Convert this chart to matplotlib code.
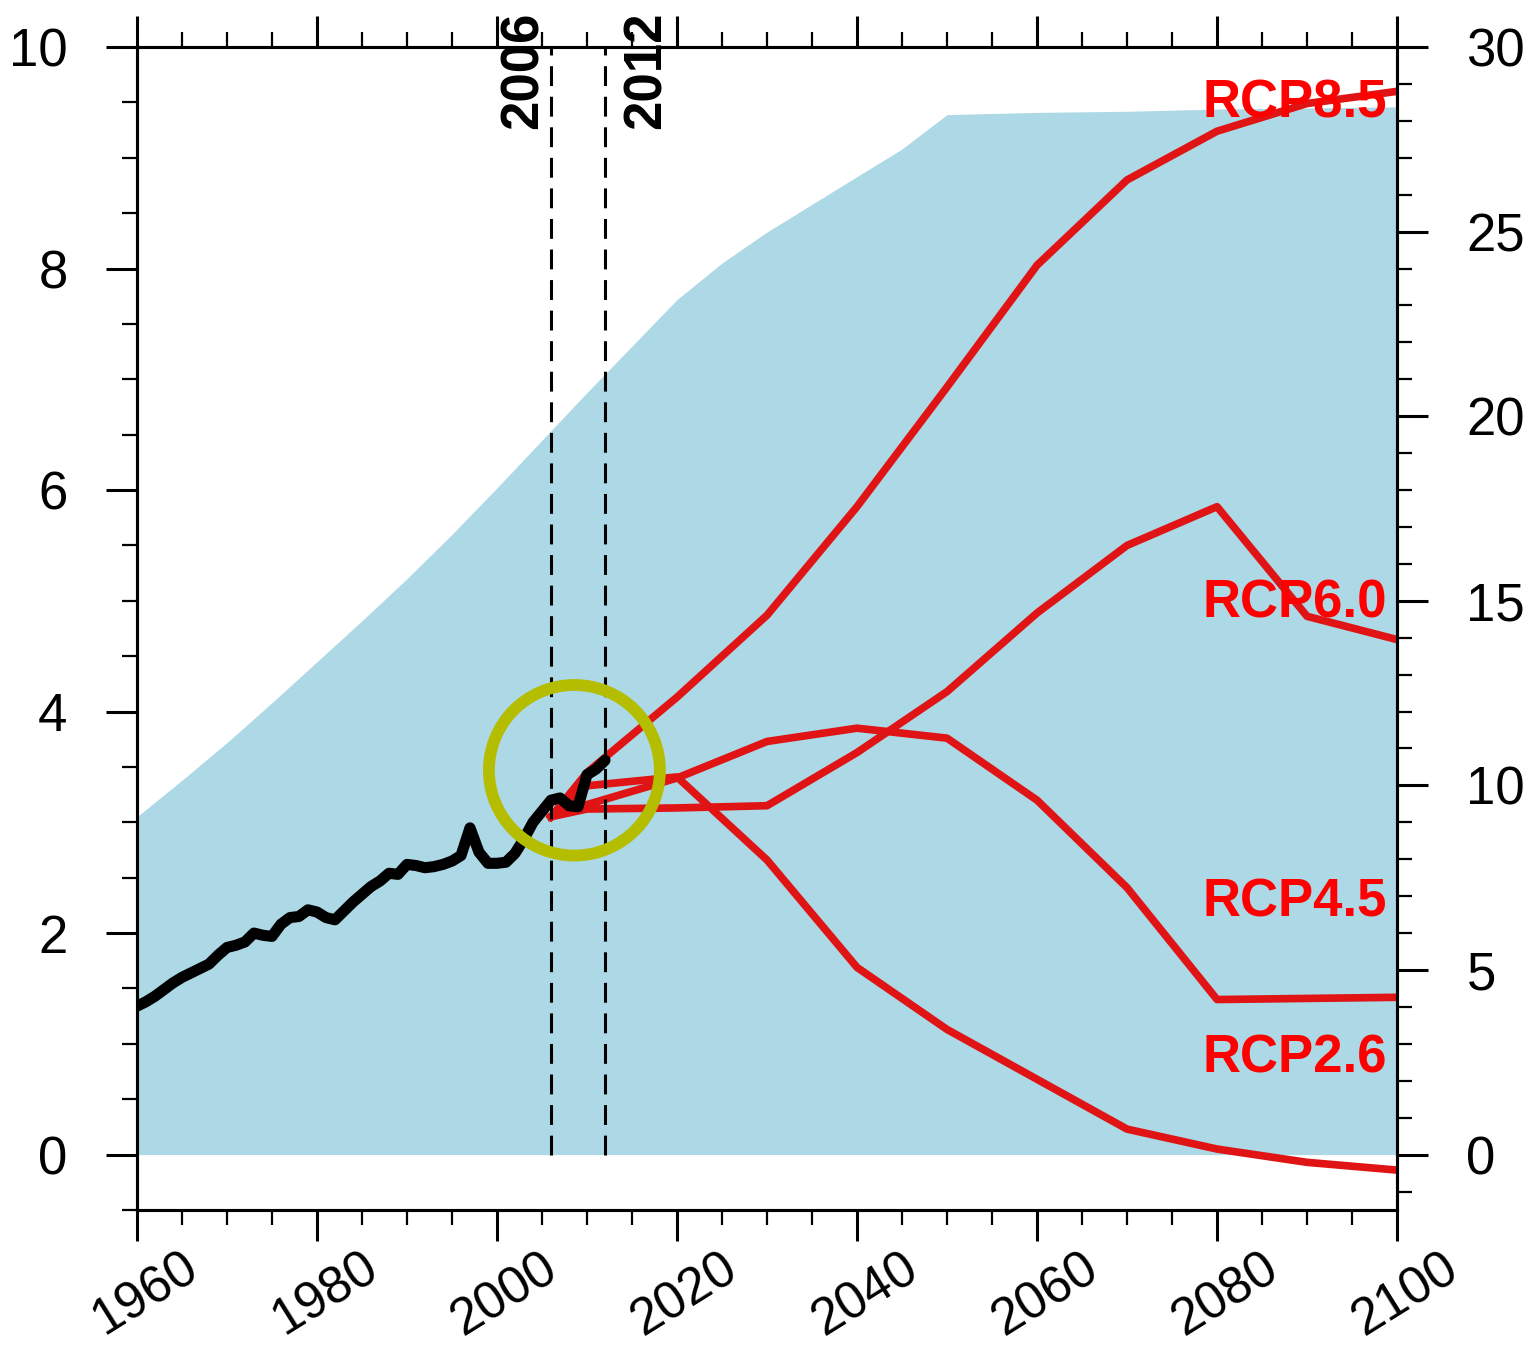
import matplotlib
matplotlib.use('Agg')
import matplotlib.pyplot as plt
from matplotlib.ticker import MultipleLocator
from matplotlib.patches import Ellipse
from matplotlib.transforms import ScaledTranslation

plt.rcParams['font.family'] = ['Liberation Sans', 'DejaVu Sans']

# shaded envelope (upper edge, left axis units)
env_years = [1960, 1965, 1970, 1975, 1980, 1985, 1990, 1995, 2000, 2005, 2010,
             2015, 2020, 2025, 2030, 2035, 2040, 2045, 2050, 2060, 2070, 2080,
             2090, 2100]
env_upper = [3.05, 3.38, 3.72, 4.08, 4.45, 4.82, 5.20, 5.60, 6.02, 6.45, 6.88,
             7.30, 7.72, 8.05, 8.33, 8.58, 8.83, 9.08, 9.39, 9.41, 9.42, 9.44,
             9.45, 9.46]

# observed series
obs_years = list(range(1960, 2013))
obs_values = [1.34, 1.38, 1.43, 1.49, 1.55, 1.60, 1.64, 1.68, 1.72, 1.80,
              1.87, 1.89, 1.92, 2.00, 1.98, 1.97, 2.08, 2.14, 2.15, 2.21,
              2.19, 2.14, 2.12, 2.20, 2.28, 2.35, 2.42, 2.47, 2.54, 2.53,
              2.62, 2.61, 2.59, 2.60, 2.62, 2.65, 2.70, 2.95, 2.73, 2.63,
              2.63, 2.64, 2.72, 2.85, 3.00, 3.10, 3.20, 3.22, 3.15, 3.14,
              3.43, 3.48, 3.56]

# scenarios
rcp_years = [2006, 2010, 2020, 2030, 2040, 2050, 2060, 2070, 2080, 2090, 2100]
rcp85 = [3.05, 3.45, 4.13, 4.87, 5.85, 6.93, 8.03, 8.80, 9.24, 9.49, 9.60]
rcp60 = [3.05, 3.12, 3.13, 3.15, 3.63, 4.18, 4.89, 5.50, 5.85, 4.86, 4.65]
rcp45 = [3.05, 3.16, 3.40, 3.73, 3.85, 3.76, 3.20, 2.41, 1.40, 1.41, 1.42]
rcp26 = [3.05, 3.33, 3.41, 2.66, 1.69, 1.13, 0.68, 0.23, 0.05, -0.07, -0.14]
rcp_names = ['RCP8.5', 'RCP6.0', 'RCP4.5', 'RCP2.6']
rcp_label_y = [9.36, 4.85, 2.15, 0.74]

marker_years = [2006, 2012]

red = '#e01414'

fig = plt.figure(figsize=(15.27, 13.48), dpi=100)
ax = fig.add_axes([0.0897, 0.1024, 0.8252, 0.8627])

ax.fill_between(env_years, 0, env_upper, color='lightblue', lw=0, zorder=1)

for vals in [rcp85, rcp60, rcp45, rcp26]:
    ax.plot(rcp_years, vals, color=red, lw=5.5, zorder=3)

for yr in marker_years:
    ax.plot([yr, yr], [0, 10], color='black', lw=2.2, dashes=(6.5, 3.5), zorder=4)

ax.plot(obs_years, obs_values, color='black', lw=8, zorder=5,
        solid_capstyle='round')

ax.add_patch(Ellipse((2008.6, 3.47), width=19.0, height=1.54, fill=False,
                     ec='#b4bd00', lw=8.5, zorder=6))

for name, y in zip(rcp_names, rcp_label_y):
    ax.text(2098.9, y, name, color='red', fontsize=38, fontweight='bold',
            ha='right', va='baseline', zorder=7)

ax.annotate('2006', xy=(2006, 1.0), xycoords=('data', 'axes fraction'),
            xytext=(-2, -23), textcoords='offset pixels', rotation=90,
            ha='right', va='center', fontsize=38, fontweight='bold',
            annotation_clip=False)
ax.annotate('2012', xy=(2012, 1.0), xycoords=('data', 'axes fraction'),
            xytext=(17, -23), textcoords='offset pixels', rotation=90,
            ha='left', va='center', fontsize=38, fontweight='bold',
            annotation_clip=False)

ax.set_xlim(1960, 2100)
ax.set_ylim(-0.5, 10)
ax.xaxis.set_major_locator(MultipleLocator(20))
ax.xaxis.set_minor_locator(MultipleLocator(5))
ax.yaxis.set_major_locator(MultipleLocator(2))
ax.yaxis.set_minor_locator(MultipleLocator(0.5))

ax2 = ax.twinx()
ax2.set_ylim(-1.5, 30)
ax2.yaxis.set_major_locator(MultipleLocator(5))
ax2.yaxis.set_minor_locator(MultipleLocator(1))

for a in (ax, ax2):
    a.tick_params(which='both', direction='out', color='black')
    a.tick_params(which='major', length=22, width=2.2)
    a.tick_params(which='minor', length=11, width=1.6)
    for s in a.spines.values():
        s.set_linewidth(2.2)

ax.tick_params(axis='x', which='both', top=True, labeltop=False)
ax.tick_params(axis='x', labelsize=37, pad=2)
ax.tick_params(axis='y', labelsize=38, pad=28)
ax2.tick_params(axis='y', labelsize=38, pad=28)
shift = ScaledTranslation(8 / 100, 0, fig.dpi_scale_trans)
for lbl in ax.get_xticklabels():
    lbl.set_rotation(32)
    lbl.set_ha('center')
    lbl.set_transform(lbl.get_transform() + shift)

fig.savefig('out.png', dpi=100)
